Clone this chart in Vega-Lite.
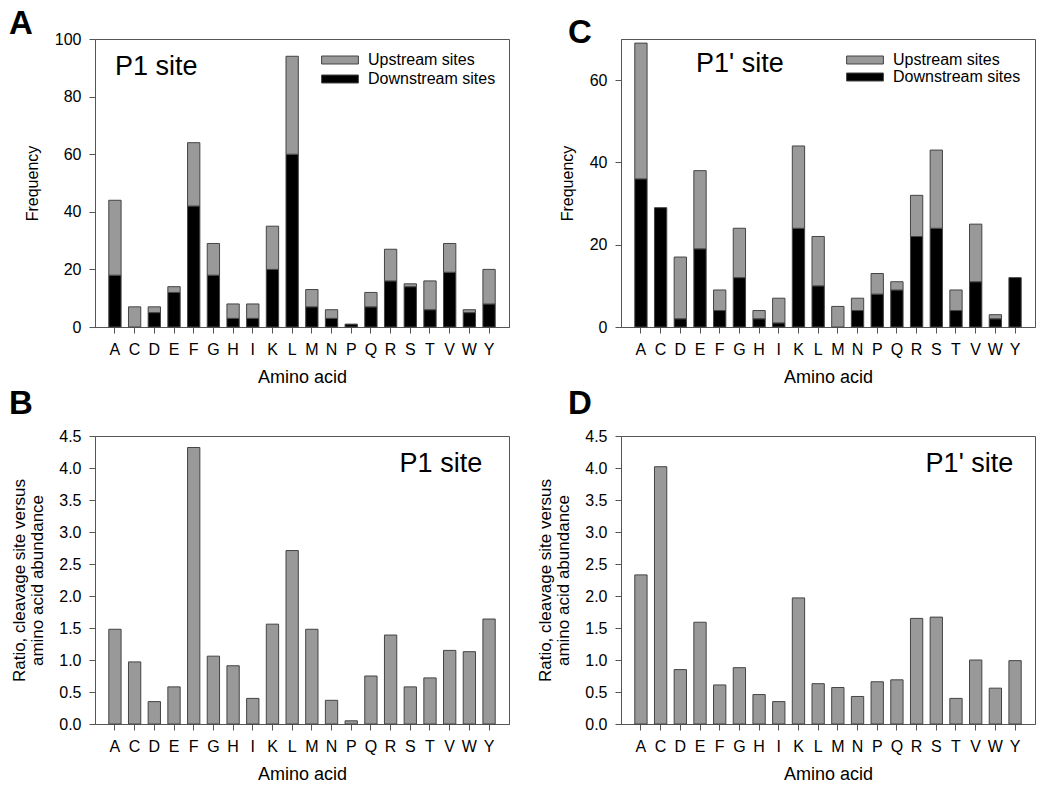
{
  "$schema": "https://vega.github.io/schema/vega-lite/v6.json",
  "padding": {"left": 8, "top": 7, "right": 14, "bottom": 8},
  "background": "white",
  "config": {
    "font": "Liberation Sans",
    "view": {"stroke": "#555555", "strokeWidth": 1},
    "axis": {"grid": false, "labelOverlap": false, "domainColor": "#555555", "tickColor": "#555555", "labelFontSize": 16, "titleFontSize": 16, "titleFontWeight": "normal", "labelColor": "#000000", "titleColor": "#000000", "tickSize": 6, "labelPadding": 8},
    "axisX": {"labelAngle": 0, "titleFontSize": 18, "titlePadding": 11},
    "axisY": {"titlePadding": 14},
    "title": {"anchor": "start", "frame": "group", "fontSize": 33, "fontWeight": "bold", "color": "#000000", "baseline": "alphabetic"},
    "legend": {"orient": "none", "title": null, "labelFontSize": 16, "labelColor": "#000000", "symbolType": "M-4.6,-1L4.6,-1L4.6,1L-4.6,1Z", "symbolSize": 64, "symbolStrokeColor": "#444444", "symbolStrokeWidth": 1, "padding": 0, "labelOffset": 20, "symbolOpacity": 1}
  },
  "datasets": {
    "p1freq": [
      {"aa": "A", "type": "Downstream sites", "value": 18}, {"aa": "A", "type": "Upstream sites", "value": 26},
      {"aa": "C", "type": "Upstream sites", "value": 7},
      {"aa": "D", "type": "Downstream sites", "value": 5}, {"aa": "D", "type": "Upstream sites", "value": 2},
      {"aa": "E", "type": "Downstream sites", "value": 12}, {"aa": "E", "type": "Upstream sites", "value": 2},
      {"aa": "F", "type": "Downstream sites", "value": 42}, {"aa": "F", "type": "Upstream sites", "value": 22},
      {"aa": "G", "type": "Downstream sites", "value": 18}, {"aa": "G", "type": "Upstream sites", "value": 11},
      {"aa": "H", "type": "Downstream sites", "value": 3}, {"aa": "H", "type": "Upstream sites", "value": 5},
      {"aa": "I", "type": "Downstream sites", "value": 3}, {"aa": "I", "type": "Upstream sites", "value": 5},
      {"aa": "K", "type": "Downstream sites", "value": 20}, {"aa": "K", "type": "Upstream sites", "value": 15},
      {"aa": "L", "type": "Downstream sites", "value": 60}, {"aa": "L", "type": "Upstream sites", "value": 34},
      {"aa": "M", "type": "Downstream sites", "value": 7}, {"aa": "M", "type": "Upstream sites", "value": 6},
      {"aa": "N", "type": "Downstream sites", "value": 3}, {"aa": "N", "type": "Upstream sites", "value": 3},
      {"aa": "P", "type": "Downstream sites", "value": 1},
      {"aa": "Q", "type": "Downstream sites", "value": 7}, {"aa": "Q", "type": "Upstream sites", "value": 5},
      {"aa": "R", "type": "Downstream sites", "value": 16}, {"aa": "R", "type": "Upstream sites", "value": 11},
      {"aa": "S", "type": "Downstream sites", "value": 14}, {"aa": "S", "type": "Upstream sites", "value": 1},
      {"aa": "T", "type": "Downstream sites", "value": 6}, {"aa": "T", "type": "Upstream sites", "value": 10},
      {"aa": "V", "type": "Downstream sites", "value": 19}, {"aa": "V", "type": "Upstream sites", "value": 10},
      {"aa": "W", "type": "Downstream sites", "value": 5}, {"aa": "W", "type": "Upstream sites", "value": 1},
      {"aa": "Y", "type": "Downstream sites", "value": 8}, {"aa": "Y", "type": "Upstream sites", "value": 12}
    ],
    "p1pfreq": [
      {"aa": "A", "type": "Downstream sites", "value": 36}, {"aa": "A", "type": "Upstream sites", "value": 33},
      {"aa": "C", "type": "Downstream sites", "value": 29},
      {"aa": "D", "type": "Downstream sites", "value": 2}, {"aa": "D", "type": "Upstream sites", "value": 15},
      {"aa": "E", "type": "Downstream sites", "value": 19}, {"aa": "E", "type": "Upstream sites", "value": 19},
      {"aa": "F", "type": "Downstream sites", "value": 4}, {"aa": "F", "type": "Upstream sites", "value": 5},
      {"aa": "G", "type": "Downstream sites", "value": 12}, {"aa": "G", "type": "Upstream sites", "value": 12},
      {"aa": "H", "type": "Downstream sites", "value": 2}, {"aa": "H", "type": "Upstream sites", "value": 2},
      {"aa": "I", "type": "Downstream sites", "value": 1}, {"aa": "I", "type": "Upstream sites", "value": 6},
      {"aa": "K", "type": "Downstream sites", "value": 24}, {"aa": "K", "type": "Upstream sites", "value": 20},
      {"aa": "L", "type": "Downstream sites", "value": 10}, {"aa": "L", "type": "Upstream sites", "value": 12},
      {"aa": "M", "type": "Upstream sites", "value": 5},
      {"aa": "N", "type": "Downstream sites", "value": 4}, {"aa": "N", "type": "Upstream sites", "value": 3},
      {"aa": "P", "type": "Downstream sites", "value": 8}, {"aa": "P", "type": "Upstream sites", "value": 5},
      {"aa": "Q", "type": "Downstream sites", "value": 9}, {"aa": "Q", "type": "Upstream sites", "value": 2},
      {"aa": "R", "type": "Downstream sites", "value": 22}, {"aa": "R", "type": "Upstream sites", "value": 10},
      {"aa": "S", "type": "Downstream sites", "value": 24}, {"aa": "S", "type": "Upstream sites", "value": 19},
      {"aa": "T", "type": "Downstream sites", "value": 4}, {"aa": "T", "type": "Upstream sites", "value": 5},
      {"aa": "V", "type": "Downstream sites", "value": 11}, {"aa": "V", "type": "Upstream sites", "value": 14},
      {"aa": "W", "type": "Downstream sites", "value": 2}, {"aa": "W", "type": "Upstream sites", "value": 1},
      {"aa": "Y", "type": "Downstream sites", "value": 12}
    ],
    "p1ratio": [
      {"aa": "A", "ratio": 1.48}, {"aa": "C", "ratio": 0.97}, {"aa": "D", "ratio": 0.35}, {"aa": "E", "ratio": 0.58},
      {"aa": "F", "ratio": 4.32}, {"aa": "G", "ratio": 1.06}, {"aa": "H", "ratio": 0.91}, {"aa": "I", "ratio": 0.40},
      {"aa": "K", "ratio": 1.56}, {"aa": "L", "ratio": 2.71}, {"aa": "M", "ratio": 1.48}, {"aa": "N", "ratio": 0.37},
      {"aa": "P", "ratio": 0.05}, {"aa": "Q", "ratio": 0.75}, {"aa": "R", "ratio": 1.39}, {"aa": "S", "ratio": 0.58},
      {"aa": "T", "ratio": 0.72}, {"aa": "V", "ratio": 1.15}, {"aa": "W", "ratio": 1.13}, {"aa": "Y", "ratio": 1.64}
    ],
    "p1pratio": [
      {"aa": "A", "ratio": 2.33}, {"aa": "C", "ratio": 4.02}, {"aa": "D", "ratio": 0.85}, {"aa": "E", "ratio": 1.59},
      {"aa": "F", "ratio": 0.61}, {"aa": "G", "ratio": 0.88}, {"aa": "H", "ratio": 0.46}, {"aa": "I", "ratio": 0.35},
      {"aa": "K", "ratio": 1.97}, {"aa": "L", "ratio": 0.63}, {"aa": "M", "ratio": 0.57}, {"aa": "N", "ratio": 0.43},
      {"aa": "P", "ratio": 0.66}, {"aa": "Q", "ratio": 0.69}, {"aa": "R", "ratio": 1.65}, {"aa": "S", "ratio": 1.67},
      {"aa": "T", "ratio": 0.40}, {"aa": "V", "ratio": 1.00}, {"aa": "W", "ratio": 0.56}, {"aa": "Y", "ratio": 0.99}
    ]
  },
  "columns": 2,
  "spacing": {"row": 109, "column": 112},
  "bounds": "flush",
  "resolve": {"scale": {"color": "independent"}, "legend": {"color": "independent"}},
  "concat": [
    {
      "width": 414, "height": 288,
      "title": {"text": "A", "dx": -86, "offset": -10},
      "layer": [
        {
          "data": {"name": "p1freq"},
          "mark": {"type": "bar", "stroke": "#444444", "strokeWidth": 1},
          "encoding": {
            "x": {"field": "aa", "type": "nominal", "scale": {"paddingInner": 0.375, "paddingOuter": 0.7}, "axis": {"title": "Amino acid"}},
            "y": {"field": "value", "type": "quantitative", "stack": "zero", "scale": {"domain": [0, 100], "nice": false}, "axis": {"title": "Frequency", "values": [0, 20, 40, 60, 80, 100], "labelOverlap": false}},
            "color": {"field": "type", "type": "nominal", "scale": {"domain": ["Upstream sites", "Downstream sites"], "range": ["#999999", "#000000"]}, "legend": {"legendX": 237, "legendY": 13, "rowPadding": 3}},
            "order": {"field": "type", "sort": "ascending"}
          }
        },
        {
          "data": {"values": [{}]},
          "mark": {"type": "text", "text": "P1 site", "fontSize": 27, "align": "left", "baseline": "alphabetic", "color": "#000000"},
          "encoding": {
            "x": {"datum": "A", "axis": {"title": "Amino acid"}},
            "y": {"datum": 87.4, "axis": {"title": "Frequency", "values": [0, 20, 40, 60, 80, 100], "labelOverlap": false}}
          }
        }
      ]
    },
    {
      "width": 414, "height": 288,
      "title": {"text": "C", "dx": -53, "offset": -11},
      "layer": [
        {
          "data": {"name": "p1pfreq"},
          "mark": {"type": "bar", "stroke": "#444444", "strokeWidth": 1},
          "encoding": {
            "x": {"field": "aa", "type": "nominal", "scale": {"paddingInner": 0.375, "paddingOuter": 0.7}, "axis": {"title": "Amino acid"}},
            "y": {"field": "value", "type": "quantitative", "stack": "zero", "scale": {"domain": [0, 70], "nice": false}, "axis": {"title": "Frequency", "values": [0, 20, 40, 60], "labelOverlap": false}},
            "color": {"field": "type", "type": "nominal", "scale": {"domain": ["Upstream sites", "Downstream sites"], "range": ["#999999", "#000000"]}, "legend": {"legendX": 236, "legendY": 13, "rowPadding": 1}},
            "order": {"field": "type", "sort": "ascending"}
          }
        },
        {
          "data": {"values": [{}]},
          "mark": {"type": "text", "text": "P1' site", "fontSize": 27, "align": "left", "baseline": "alphabetic", "dx": -4, "color": "#000000"},
          "encoding": {
            "x": {"datum": "E", "axis": {"title": "Amino acid"}},
            "y": {"datum": 61.9, "axis": {"title": "Frequency", "values": [0, 20, 40, 60], "labelOverlap": false}}
          }
        }
      ]
    },
    {
      "width": 414, "height": 288,
      "title": {"text": "B", "dx": -86, "offset": 7},
      "layer": [
        {
          "data": {"name": "p1ratio"},
          "mark": {"type": "bar", "color": "#999999", "stroke": "#444444", "strokeWidth": 1},
          "encoding": {
            "x": {"field": "aa", "type": "nominal", "scale": {"paddingInner": 0.375, "paddingOuter": 0.7}, "axis": {"title": "Amino acid"}},
            "y": {"field": "ratio", "type": "quantitative", "scale": {"domain": [0, 4.5], "nice": false}, "axis": {"title": ["Ratio, cleavage site versus", "amino acid abundance"], "titleFontSize": 17, "titleLineHeight": 18, "titlePadding": 12, "format": ".1f", "labelOverlap": false, "values": [0, 0.5, 1, 1.5, 2, 2.5, 3, 3.5, 4, 4.5]}}
          }
        },
        {
          "data": {"values": [{}]},
          "mark": {"type": "text", "text": "P1 site", "fontSize": 27, "align": "left", "baseline": "alphabetic", "dx": 9, "color": "#000000"},
          "encoding": {
            "x": {"datum": "R", "axis": {"title": "Amino acid"}},
            "y": {"datum": 3.93, "axis": {"title": ["Ratio, cleavage site versus", "amino acid abundance"], "titleFontSize": 17, "titleLineHeight": 18, "titlePadding": 12, "format": ".1f", "labelOverlap": false, "values": [0, 0.5, 1, 1.5, 2, 2.5, 3, 3.5, 4, 4.5]}}
          }
        }
      ]
    },
    {
      "width": 414, "height": 288,
      "title": {"text": "D", "dx": -53, "offset": 7},
      "layer": [
        {
          "data": {"name": "p1pratio"},
          "mark": {"type": "bar", "color": "#999999", "stroke": "#444444", "strokeWidth": 1},
          "encoding": {
            "x": {"field": "aa", "type": "nominal", "scale": {"paddingInner": 0.375, "paddingOuter": 0.7}, "axis": {"title": "Amino acid"}},
            "y": {"field": "ratio", "type": "quantitative", "scale": {"domain": [0, 4.5], "nice": false}, "axis": {"title": ["Ratio, cleavage site versus", "amino acid abundance"], "titleFontSize": 17, "titleLineHeight": 18, "titlePadding": 12, "format": ".1f", "labelOverlap": false, "values": [0, 0.5, 1, 1.5, 2, 2.5, 3, 3.5, 4, 4.5]}}
          }
        },
        {
          "data": {"values": [{}]},
          "mark": {"type": "text", "text": "P1' site", "fontSize": 27, "align": "left", "baseline": "alphabetic", "dx": 9, "color": "#000000"},
          "encoding": {
            "x": {"datum": "R", "axis": {"title": "Amino acid"}},
            "y": {"datum": 3.93, "axis": {"title": ["Ratio, cleavage site versus", "amino acid abundance"], "titleFontSize": 17, "titleLineHeight": 18, "titlePadding": 12, "format": ".1f", "labelOverlap": false, "values": [0, 0.5, 1, 1.5, 2, 2.5, 3, 3.5, 4, 4.5]}}
          }
        }
      ]
    }
  ]
}
